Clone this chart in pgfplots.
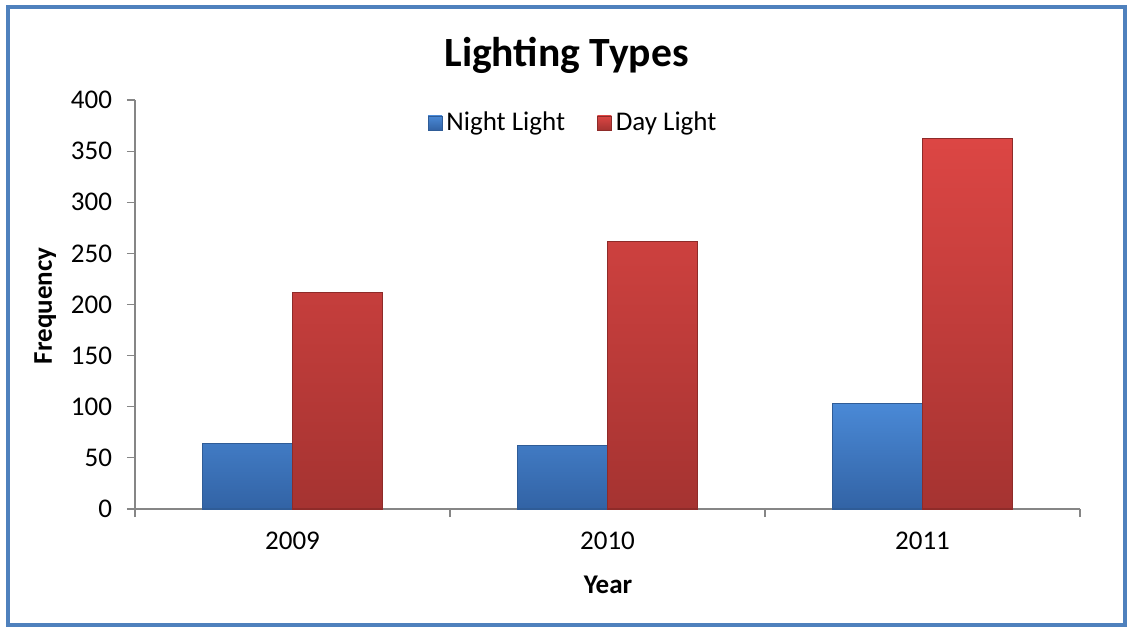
\documentclass[border=0pt]{standalone}
\usepackage{fontspec}
\setmainfont{Carlito}
\usepackage{pgfplots}
\pgfplotsset{compat=1.18}
\definecolor{frameblue}{HTML}{4F81BD}
\definecolor{axisgray}{HTML}{868686}
\definecolor{nightTop}{HTML}{4A89D6}
\definecolor{nightBot}{HTML}{3263A5}
\definecolor{nightEdge}{HTML}{2F5C97}
\definecolor{dayTop}{HTML}{DC4644}
\definecolor{dayBot}{HTML}{A53331}
\definecolor{dayEdge}{HTML}{8E2B29}
\begin{document}
\begin{tikzpicture}
\useasboundingbox (-67.5bp,-59bp) rectangle (496bp,254.5bp);
\draw[frameblue, line width=1.6bp] (-63.5bp,-58bp) rectangle (495bp,251bp);
\begin{axis}[
  at={(0,0)}, anchor=south west, scale only axis,
  width=472.5bp, height=204.5bp,
  xmin=-0.5, xmax=2.5, ymin=0, ymax=400,
  ytick={0,50,...,400},
  xtick={-0.5,0.5,1.5,2.5}, xticklabels={},
  extra x ticks={0,1,2}, extra x tick labels={2009,2010,2011},
  extra x tick style={major tick length=0pt, tick style={draw=none}},
  axis x line*=bottom, axis y line*=left,
  axis line style={axisgray, line width=0.6bp, -},
  tick style={axisgray, line width=0.6bp},
  tick align=outside, major tick length=4bp,
  ybar=0pt, bar width=45bp,
  font=\fontsize{13.5bp}{16bp}\selectfont,
  tick label style={font=\fontsize{13.5bp}{16bp}\selectfont, black},
  yticklabel style={xshift=-4bp},
  xticklabel style={yshift=-8bp},
  /pgf/number format/assume math mode=true,
  legend style={at={(0.4646,0.944)}, anchor=center, draw=none, fill=none,
    legend columns=2, font=\fontsize{13.5bp}{16bp}\selectfont,
    /tikz/every even column/.append style={column sep=14bp},
    inner sep=0pt},
  legend image code/.code={\draw[#1, line width=0.4bp] (0bp,-3.5bp) rectangle (7bp,3.5bp);},
  clip=false,
]
\addplot[top color=nightTop, bottom color=nightBot, draw=nightEdge, line width=0.6bp]
  coordinates {(0,64) (1,62) (2,103)};
\addplot[top color=dayTop, bottom color=dayBot, draw=dayEdge, line width=0.6bp]
  coordinates {(0,212) (1,262) (2,362)};
\legend{Night Light, Day Light}
\end{axis}
\node[anchor=base, font=\bfseries\fontsize{20.8bp}{25bp}\selectfont] at (215.75bp,221bp) {Lighting Types};
\node[anchor=base, font=\bfseries\fontsize{13.5bp}{16bp}\selectfont] at (236.5bp,-42bp) {Year};
\node[anchor=base, rotate=90, font=\bfseries\fontsize{13.5bp}{16bp}\selectfont] at (-41.5bp,101.5bp) {Frequency};
\end{tikzpicture}
\end{document}
